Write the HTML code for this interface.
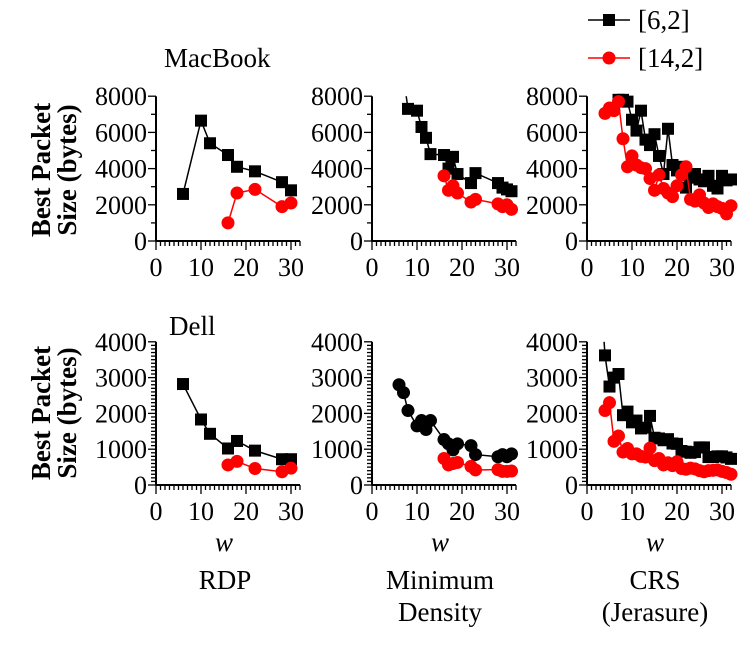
<!DOCTYPE html>
<html><head><meta charset="utf-8"><style>
body{margin:0;background:#fff}
svg text{font-family:"Liberation Serif",serif;fill:#000}
</style></head><body>
<svg id="s" width="746" height="640" xmlns="http://www.w3.org/2000/svg"></svg>
<script>
const S=document.getElementById('s');let h='';
function X(ox,v){return ox+v*4.5}
function panel(ox,y0,ymax,pxPer,ticks,minorStep,data){
 const ytop=y0-ymax*pxPer;
 h+=`<line x1="${ox}" y1="${ytop}" x2="${ox}" y2="${y0}" stroke="#000" stroke-width="2"/>`;
 h+=`<line x1="${ox}" y1="${y0}" x2="${X(ox,32)}" y2="${y0}" stroke="#000" stroke-width="2"/>`;
 for(let i=0;i<=32;i++){const x=X(ox,i);const L=i%10==0?9:5;h+=`<line x1="${x}" y1="${y0}" x2="${x}" y2="${y0+L}" stroke="#000" stroke-width="1.3"/>`;}
 for(let v=0;v<=ymax;v+=minorStep){const y=y0-v*pxPer;const maj=ticks.includes(v);h+=`<line x1="${ox-(maj?8:5)}" y1="${y}" x2="${ox}" y2="${y}" stroke="#000" stroke-width="1.3"/>`;}
 ticks.forEach(v=>{h+=`<text x="${ox-9}" y="${y0-v*pxPer+9}" font-size="26" text-anchor="end">${v}</text>`});
 [0,10,20,30].forEach(v=>{h+=`<text x="${X(ox,v)}" y="${y0+35}" font-size="26" text-anchor="middle">${v}</text>`});
 data.forEach(d=>{
  const pts=d.p.map(q=>[X(ox,q[0]),y0-q[1]*pxPer]);
  h+=`<polyline fill="none" stroke="${d.c}" stroke-width="1.5" points="${pts.map(p=>p.join(',')).join(' ')}"/>`;
  pts.forEach((p,i)=>{if(d.skip&&i==0)return;
   if(d.m=='s')h+=`<rect x="${p[0]-6}" y="${p[1]-6}" width="12" height="12" fill="${d.c}"/>`;
   else h+=`<circle cx="${p[0]}" cy="${p[1]}" r="6.5" fill="${d.c}"/>`;});
 });
}
const T0=241,TP=0.0181,B0=485,BP=0.0358;
panel(156,T0,8000,TP,[0,2000,4000,6000,8000],1000,[
 {c:'#000',m:'s',p:[[6,2600],[10,6650],[12,5400],[16,4750],[18,4100],[22,3850],[28,3250],[30,2800]]},
 {c:'#f00',m:'c',p:[[16,1000],[18,2650],[22,2850],[28,1900],[30,2100]]}]);
panel(372,T0,8000,TP,[0,2000,4000,6000,8000],1000,[
 {c:'#000',m:'s',skip:1,p:[[7.6,8000],[8,7300],[10,7200],[11,6300],[12,5700],[13,4800],[16,4750],[17,4000],[18,4650],[19,3700],[22,3200],[23,3750],[28,3200],[29,2950],[30,2850],[31,2750]]},
 {c:'#f00',m:'c',p:[[16,3600],[17,2800],[18,3050],[19,2650],[22,2150],[23,2300],[28,2050],[29,1900],[30,2000],[31,1750]]}]);
panel(587,T0,8000,TP,[0,2000,4000,6000,8000],1000,[
 {c:'#000',m:'s',p:[[7,7800],[8,7800],[9,7700],[10,6700],[11,6100],[12,7200],[13,5600],[14,5300],[15,5900],[16,4700],[17,3700],[18,6200],[19,4200],[20,3900],[21,4100],[22,2950],[23,3500],[24,3700],[25,3400],[26,3300],[27,3600],[28,3050],[29,2900],[30,3600],[31,3350],[32,3400]]},
 {c:'#f00',m:'c',p:[[4,7050],[5,7350],[6,7200],[7,7700],[8,5650],[9,4100],[10,4700],[11,4200],[12,4050],[13,4000],[14,3450],[15,2800],[16,3650],[17,2900],[18,2650],[19,2450],[20,3050],[21,3650],[22,4100],[23,2300],[24,2200],[25,2550],[26,2100],[27,1850],[28,2050],[29,1900],[30,1800],[31,1500],[32,1950]]}]);
panel(156,B0,4000,BP,[0,1000,2000,3000,4000],100,[
 {c:'#000',m:'s',p:[[6,2820],[10,1830],[12,1430],[16,1020],[18,1230],[22,960],[28,720],[30,720]]},
 {c:'#f00',m:'c',p:[[16,560],[18,660],[22,460],[28,370],[30,470]]}]);
panel(372,B0,4000,BP,[0,1000,2000,3000,4000],100,[
 {c:'#000',m:'c',p:[[6,2800],[7,2580],[8,2080],[10,1650],[11,1800],[12,1550],[13,1800],[16,1270],[17,1150],[18,980],[19,1150],[22,1100],[23,850],[28,790],[29,850],[30,790],[31,870]]},
 {c:'#f00',m:'c',p:[[16,740],[17,560],[18,600],[19,630],[22,520],[23,420],[28,430],[29,380],[30,380],[31,390]]}]);
panel(587,B0,4000,BP,[0,1000,2000,3000,4000],100,[
 {c:'#000',m:'s',skip:1,p:[[3.8,4000],[4,3620],[5,2750],[6,3000],[7,3100],[8,1950],[9,2050],[10,1750],[11,1800],[12,1580],[13,1600],[14,1930],[15,1320],[16,1300],[17,1250],[18,1280],[19,1160],[20,1150],[21,950],[22,930],[23,900],[24,920],[25,1050],[26,1050],[27,780],[28,780],[29,800],[30,800],[31,770],[32,730]]},
 {c:'#f00',m:'c',p:[[4,2080],[5,2300],[6,1220],[7,1370],[8,920],[9,1020],[10,870],[11,870],[12,800],[13,780],[14,1030],[15,680],[16,740],[17,560],[18,620],[19,540],[20,650],[21,460],[22,440],[23,470],[24,450],[25,400],[26,370],[27,400],[28,410],[29,420],[30,380],[31,350],[32,300]]}]);
[[170],[413]].forEach(([cy])=>{
 h+=`<text transform="translate(50,${cy}) rotate(-90)" font-size="27" font-weight="bold" text-anchor="middle">Best Packet</text>`;
 h+=`<text transform="translate(76,${cy}) rotate(-90)" font-size="27" font-weight="bold" text-anchor="middle">Size (bytes)</text>`;
});
h+=`<text x="164" y="67" font-size="27">MacBook</text>`;
h+=`<text x="169" y="335" font-size="27">Dell</text>`;
[224,440,655].forEach(x=>h+=`<text x="${x}" y="551" font-size="27" font-style="italic" text-anchor="middle">w</text>`);
h+=`<text x="225" y="589" font-size="27" text-anchor="middle">RDP</text>`;
h+=`<text x="440" y="589" font-size="27" text-anchor="middle">Minimum</text>`;
h+=`<text x="440" y="621" font-size="27" text-anchor="middle">Density</text>`;
h+=`<text x="655" y="589" font-size="27" text-anchor="middle">CRS</text>`;
h+=`<text x="655" y="621" font-size="27" text-anchor="middle">(Jerasure)</text>`;
h+=`<line x1="588" y1="20" x2="630" y2="20" stroke="#000" stroke-width="1.5"/><rect x="603" y="14" width="12" height="12" fill="#000"/><text x="638" y="29" font-size="27">[6,2]</text>`;
h+=`<line x1="588" y1="58" x2="630" y2="58" stroke="#f00" stroke-width="1.5"/><circle cx="609" cy="58" r="6.5" fill="#f00"/><text x="638" y="67" font-size="27">[14,2]</text>`;
S.innerHTML=h;
</script>
</body></html>
